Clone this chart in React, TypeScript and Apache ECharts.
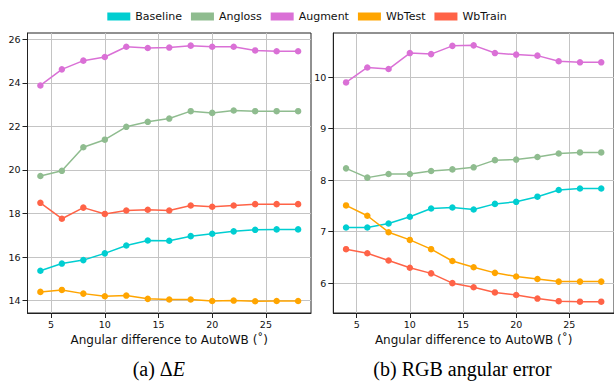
import React, { useEffect, useRef } from 'react';
import * as echarts from 'echarts';

// x values: angular difference to AutoWB (degrees)
const angles = [4, 6, 8, 10, 12, 14, 16, 18, 20, 22, 24, 26, 28];
const seriesNames = ['Baseline', 'Angloss', 'Augment', 'WbTest', 'WbTrain'];
const seriesColors = ['#00CED1', '#8FBC8F', '#DA70D6', '#FFA500', '#FF6347'];

// (a) Delta E
const deBaseline = [15.37, 15.70, 15.86, 16.17, 16.53, 16.76, 16.75, 16.96, 17.07, 17.18, 17.25, 17.27, 17.27];
const deAngloss = [19.72, 19.96, 21.04, 21.39, 21.98, 22.21, 22.36, 22.70, 22.62, 22.73, 22.70, 22.70, 22.70];
const deAugment = [23.88, 24.62, 25.02, 25.19, 25.66, 25.60, 25.62, 25.71, 25.66, 25.66, 25.49, 25.45, 25.45];
const deWbTest = [14.40, 14.49, 14.32, 14.20, 14.23, 14.08, 14.05, 14.05, 13.98, 14.00, 13.97, 13.98, 13.98];
const deWbTrain = [18.49, 17.76, 18.27, 17.98, 18.14, 18.17, 18.14, 18.37, 18.31, 18.37, 18.43, 18.43, 18.43];

// (b) RGB angular error
const rgbBaseline = [7.08, 7.08, 7.16, 7.29, 7.45, 7.47, 7.43, 7.54, 7.58, 7.68, 7.81, 7.84, 7.84];
const rgbAngloss = [8.23, 8.05, 8.12, 8.12, 8.18, 8.21, 8.25, 8.39, 8.40, 8.45, 8.52, 8.54, 8.54];
const rgbAugment = [9.90, 10.19, 10.16, 10.47, 10.45, 10.61, 10.62, 10.47, 10.44, 10.42, 10.31, 10.29, 10.29];
const rgbWbTest = [7.51, 7.31, 6.99, 6.84, 6.66, 6.43, 6.31, 6.20, 6.13, 6.08, 6.03, 6.03, 6.03];
const rgbWbTrain = [6.66, 6.58, 6.44, 6.30, 6.19, 6.00, 5.92, 5.82, 5.77, 5.70, 5.65, 5.64, 5.64];

const xTicks = [5, 10, 15, 20, 25];
const deTicks = [14, 16, 18, 20, 22, 24, 26];
const rgbTicks = [6, 7, 8, 9, 10];

const xAxisName = 'Angular difference to AutoWB (˚)';
const captionA = '(a) Δ{i|E}';
const captionB = '(b) RGB angular error';

const FONT = 'DejaVu Sans';

export default function App() {
  const ref = useRef<HTMLDivElement>(null);

  useEffect(() => {
    if (!ref.current) return;
    const chart = echarts.init(ref.current, undefined, { renderer: 'svg' });

    const deData = [deBaseline, deAngloss, deAugment, deWbTest, deWbTrain];
    const rgbData = [rgbBaseline, rgbAngloss, rgbAugment, rgbWbTest, rgbWbTrain];

    const makeX = (gridIndex: number) => ({
      type: 'value',
      gridIndex,
      min: 2.8,
      max: 29.2,
      name: xAxisName,
      nameLocation: 'middle',
      nameGap: 19,
      nameTextStyle: { fontFamily: FONT, fontSize: 12, color: '#111' },
      axisLine: { show: true, onZero: false, lineStyle: { color: '#222', width: 1 } },
      axisTick: { show: true, length: 5, customValues: xTicks, lineStyle: { color: '#222' } },
      axisLabel: { show: true, customValues: xTicks, margin: 6, fontFamily: FONT, fontSize: 9.5, color: '#111' },
      splitLine: { show: true, lineStyle: { color: '#c4c4c4', width: 1 } },
    });

    const makeY = (gridIndex: number, min: number, max: number, ticks: number[]) => ({
      type: 'value',
      gridIndex,
      min,
      max,
      axisLine: { show: true, onZero: false, lineStyle: { color: '#222', width: 1 } },
      axisTick: { show: true, length: 5, customValues: ticks, lineStyle: { color: '#222' } },
      axisLabel: { show: true, customValues: ticks, margin: 7, fontFamily: FONT, fontSize: 9.5, color: '#111' },
      splitLine: { show: true, lineStyle: { color: '#c4c4c4', width: 1 } },
    });

    const series: any[] = [];
    const addSeries = (gridIdx: number, data: number[][]) => {
      data.forEach((vals, i) => {
        series.push({
          name: seriesNames[i],
          type: 'line',
          xAxisIndex: gridIdx,
          yAxisIndex: gridIdx,
          data: angles.map((a, k) => [a, vals[k]]),
          symbol: 'circle',
          symbolSize: 6.5,
          showSymbol: true,
          color: seriesColors[i],
          lineStyle: { width: 1.5, color: seriesColors[i] },
          itemStyle: { color: seriesColors[i] },
          emphasis: { disabled: true },
        });
      });
    };
    addSeries(0, deData);
    addSeries(1, rgbData);

    chart.setOption({
      animation: false,
      legend: {
        show: true,
        data: seriesNames,
        top: 6,
        left: 'center',
        icon: 'rect',
        itemWidth: 23,
        itemHeight: 8,
        itemGap: 9,
        textStyle: { fontFamily: FONT, fontSize: 11, color: '#111' },
      },
      grid: [
        { left: 27.5, top: 33, width: 283.5, height: 280, show: true, borderColor: '#222', borderWidth: 1, backgroundColor: 'transparent' },
        { left: 333.3, top: 33, width: 283.5, height: 280, show: true, borderColor: '#222', borderWidth: 1, backgroundColor: 'transparent' },
      ],
      xAxis: [makeX(0), makeX(1)],
      yAxis: [makeY(0, 13.43, 26.29, deTicks), makeY(1, 5.42, 10.86, rgbTicks)],
      series,
      graphic: [
        {
          type: 'text',
          x: 158.8,
          y: 369,
          style: {
            text: captionA,
            font: '20px "Liberation Serif"',
            fontFamily: 'Liberation Serif',
            fontSize: 20,
            fill: '#000',
            align: 'center',
            verticalAlign: 'middle',
            rich: { i: { fontStyle: 'italic', fontFamily: 'Liberation Serif', fontSize: 20 } },
          },
        },
        {
          type: 'text',
          x: 462.5,
          y: 369,
          style: {
            text: captionB,
            fontFamily: 'Liberation Serif',
            fontSize: 20,
            fill: '#000',
            align: 'center',
            verticalAlign: 'middle',
          },
        },
      ],
    });

    return () => {
      chart.dispose();
    };
  }, []);

  return (
    <div
      ref={ref}
      style={{ position: 'absolute', left: 0, top: 0, width: 614, height: 385, background: '#fff' }}
    />
  );
}
